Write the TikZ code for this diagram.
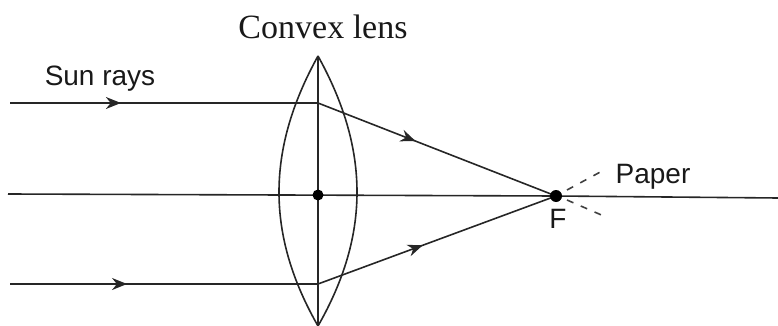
\documentclass[tikz,border=0pt]{standalone}
\usepackage{fontspec}
\setmainfont{Liberation Sans}
\newfontfamily\serifface{Liberation Serif}
\usetikzlibrary{decorations.markings,arrows.meta}
\tikzset{
 ray/.style={draw=black!85,line width=1.6pt},
 arrowed/.style={ray,postaction={decorate},decoration={markings,mark=at position #1 with {\arrow{Stealth[length=15pt,width=12pt]}}}},
 thin dash/.style={draw=black!75,line width=1.6pt,dash pattern=on 7pt off 8pt},
 lbl/.style={inner sep=0pt,text=black!90}
}
\begin{document}
\begin{tikzpicture}[x=1pt,y=-1pt]
\useasboundingbox (0,0) rectangle (778,326);
\coordinate (s1) at (10,103);
\coordinate (t1) at (318,103);
\coordinate (s2) at (8,194);
\coordinate (e2) at (778,198);
\coordinate (s3) at (10,284);
\coordinate (t3) at (318,284);
\coordinate (top) at (318,56);
\coordinate (bot) at (318,326);
\coordinate (c) at (318,195);
\coordinate (f) at (556,196);
\coordinate (d1a) at (567,190);
\coordinate (d1) at (604,170);
\coordinate (d2a) at (567,200);
\coordinate (d2) at (606,217);
\draw[ray] (top) .. controls (266,150) and (266,235) .. (bot);
\draw[ray] (top) .. controls (370,150) and (370,235) .. (bot);
\draw[ray] (top) -- (bot);
\draw[arrowed=0.36] (s1) -- (t1);
\draw[ray] (s2) -- (f) -- (e2);
\draw[arrowed=0.38] (s3) -- (t3);
\draw[arrowed=0.41] (t1) -- (f);
\draw[arrowed=0.44] (t3) -- (f);
\draw[thin dash] (d1a) -- (d1);
\draw[thin dash] (d2a) -- (d2);
\fill[black] (c) circle (5.5pt);
\fill[black] (f) circle (6pt);
\node[lbl,font=\serifface\fontsize{34}{36}\selectfont] (title) at (323,27) {Convex lens};
\node[lbl,font=\fontsize{28}{32}\selectfont] (sun) at (100,79) {Sun rays};
\node[lbl,font=\fontsize{28}{32}\selectfont] (paper) at (653,177) {Paper};
\node[lbl,font=\fontsize{28}{32}\selectfont] (F) at (558,219) {F};
\end{tikzpicture}
\end{document}
